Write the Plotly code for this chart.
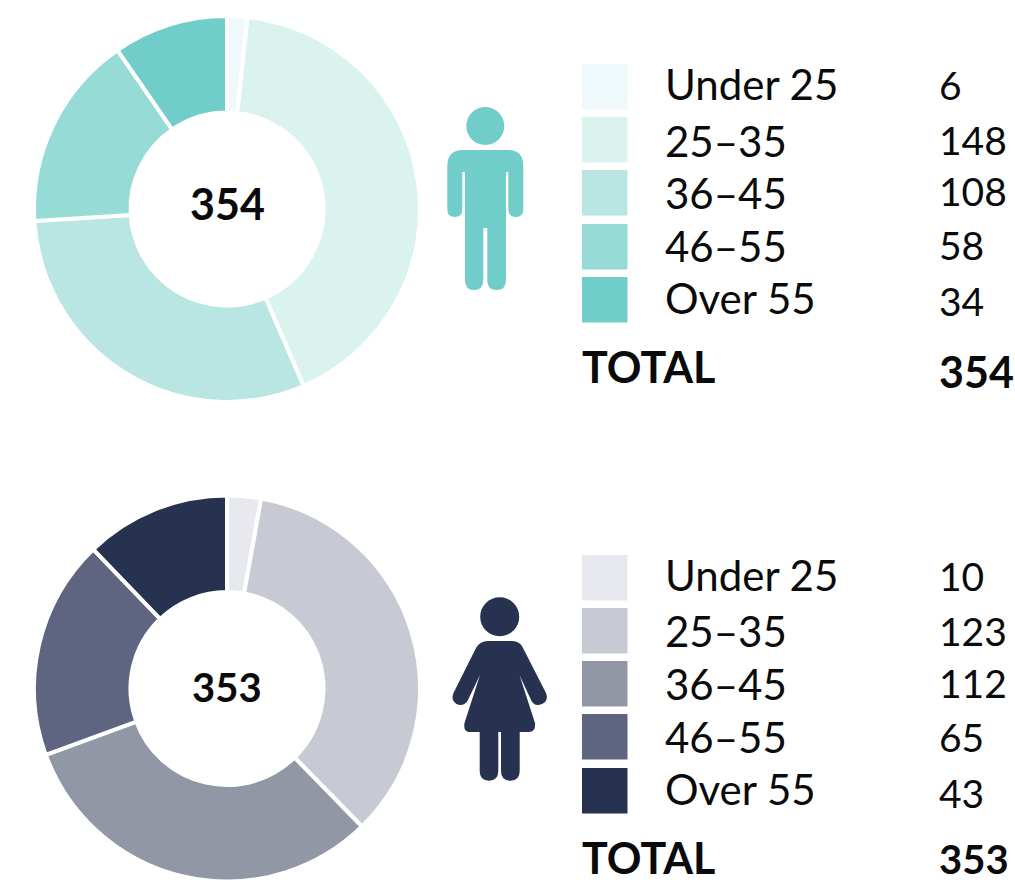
import plotly.graph_objects as go

W, H = 1015, 883
age_groups = ["Under 25", "25–35", "36–45", "46–55", "Over 55"]
men_values = [6, 148, 108, 58, 34]
women_values = [10, 123, 112, 65, 43]
men_colors = ["#eff8fa", "#daf3ef", "#b9e6e3", "#96dbd6", "#70cdc9"]
women_colors = ["#e8e9ee", "#c8cad3", "#9297a5", "#5f6480", "#273150"]
total_label = "TOTAL"

FONT = "Lato"
TEXT = "#0a0a0a"

def px(x): return x / W
def py(y): return 1 - y / H

def path(cmds):
    out = []
    for c in cmds:
        op, pts = c[0], c[1:]
        s = op + " ".join(f"{px(pts[i]):.5f},{py(pts[i+1]):.5f}" for i in range(0, len(pts), 2))
        out.append(s)
    return " ".join(out) + " Z"

def rect(x0, y0, x1, y1, color):
    return dict(type="rect", xref="paper", yref="paper", x0=px(x0), x1=px(x1), y0=py(y0), y1=py(y1),
                fillcolor=color, line=dict(width=0), layer="below")

def circle(cx, cy, r, color):
    return dict(type="circle", xref="paper", yref="paper", x0=px(cx-r), x1=px(cx+r), y0=py(cy+r), y1=py(cy-r),
                fillcolor=color, line=dict(width=0))

def pathshape(cmds, color):
    return dict(type="path", xref="paper", yref="paper", path=path(cmds), fillcolor=color, line=dict(width=0))

def text(x, y, s, size=42, bold=False, anchor="left"):
    return dict(xref="paper", yref="paper", x=px(x), y=py(y), text=f"<b>{s}</b>" if bold else s,
                showarrow=False, xanchor=anchor, yanchor="middle", align=anchor,
                font=dict(family=FONT, size=size, color=TEXT))

def donut(values, colors, cy):
    cx, r = 227, 193
    return go.Pie(values=values, labels=age_groups, hole=0.5, sort=False, direction="clockwise", rotation=0,
                  marker=dict(colors=colors, line=dict(color="white", width=4)),
                  textinfo="none", hoverinfo="label+value", showlegend=False,
                  domain=dict(x=[px(cx-r), px(cx+r)], y=[py(cy+r), py(cy-r)]))

fig = go.Figure([donut(men_values, men_colors, 209), donut(women_values, women_colors, 688.5)])

man = "#70cdc9"
man_body = [
    ["M", 447.3, 166], ["Q", 447.3, 150, 463, 150], ["L", 508, 150], ["Q", 523.3, 150, 523.3, 166],
    ["L", 523.3, 209], ["Q", 523.3, 217, 515.8, 217], ["Q", 508.3, 217, 508.3, 209], ["L", 508.3, 172],
    ["L", 506, 172], ["L", 506, 280], ["Q", 506, 290, 496.5, 290], ["Q", 487.3, 290, 487.3, 280],
    ["L", 487.3, 228], ["L", 483.3, 228], ["L", 483.3, 280], ["Q", 483.3, 290, 474, 290],
    ["Q", 465, 290, 465, 280], ["L", 465, 172], ["L", 462.3, 172], ["L", 462.3, 209],
    ["Q", 462.3, 217, 454.8, 217], ["Q", 447.3, 217, 447.3, 209],
]
woman = "#273150"
woman_body = [
    ["M", 476, 648], ["Q", 480, 641, 488, 641], ["L", 512, 641], ["Q", 520, 641, 523, 648],
    ["L", 546, 693], ["Q", 549, 701, 542, 704], ["Q", 535, 707, 531.5, 701], ["L", 519.5, 675],
    ["L", 535, 723], ["Q", 536, 732, 529, 732], ["L", 519.7, 732], ["L", 519.7, 771],
    ["Q", 519.7, 780.7, 510.5, 780.7], ["Q", 501, 780.7, 501, 771], ["L", 501, 732], ["L", 498.3, 732],
    ["L", 498.3, 771], ["Q", 498.3, 780.7, 489, 780.7], ["Q", 479.7, 780.7, 479.7, 771], ["L", 479.7, 732],
    ["L", 470, 732], ["Q", 463, 732, 464.5, 723], ["L", 480, 675], ["L", 467.5, 701],
    ["Q", 463, 707, 456.5, 704], ["Q", 450.5, 700, 453.5, 693],
]

shapes = [circle(485.3, 126, 19, man), pathshape(man_body, man),
          circle(499.7, 616.7, 19.5, woman), pathshape(woman_body, woman)]
annotations = []

def table(values, colors, swatch_tops, label_ys, value_ys, total_ys, total_size):
    for i, lab in enumerate(age_groups):
        shapes.append(rect(582, swatch_tops[i], 627.5, swatch_tops[i] + 45.5, colors[i]))
        annotations.append(text(663, label_ys[i], lab))
        annotations.append(text(937, value_ys[i], str(values[i]), size=39))
    annotations.append(text(580, total_ys[0], total_label, size=43, bold=True))
    annotations.append(text(937, total_ys[1], str(sum(values)), size=total_size, bold=True))

table(men_values, men_colors, [64, 117, 170, 224, 277], [84, 141, 193, 246, 298], [85, 140, 191, 245, 301], (366, 371), 43)
table(women_values, women_colors, [555, 608, 661, 714, 768], [575, 631, 684, 737, 789], [576, 631, 683, 737, 793], (857, 859), 40)
annotations.append(text(227, 203, str(sum(men_values)), size=43, bold=True, anchor="center"))
annotations.append(text(227, 687, str(sum(women_values)), size=40, bold=True, anchor="center"))

fig.update_layout(width=W, height=H, margin=dict(l=0, r=0, t=0, b=0), autosize=False,
                  paper_bgcolor="white", plot_bgcolor="white", shapes=shapes, annotations=annotations,
                  font=dict(family=FONT))
fig.write_html("out.html", config=dict(displayModeBar=False),
               post_script="document.body.style.margin='0';document.documentElement.style.overflow='hidden';")
